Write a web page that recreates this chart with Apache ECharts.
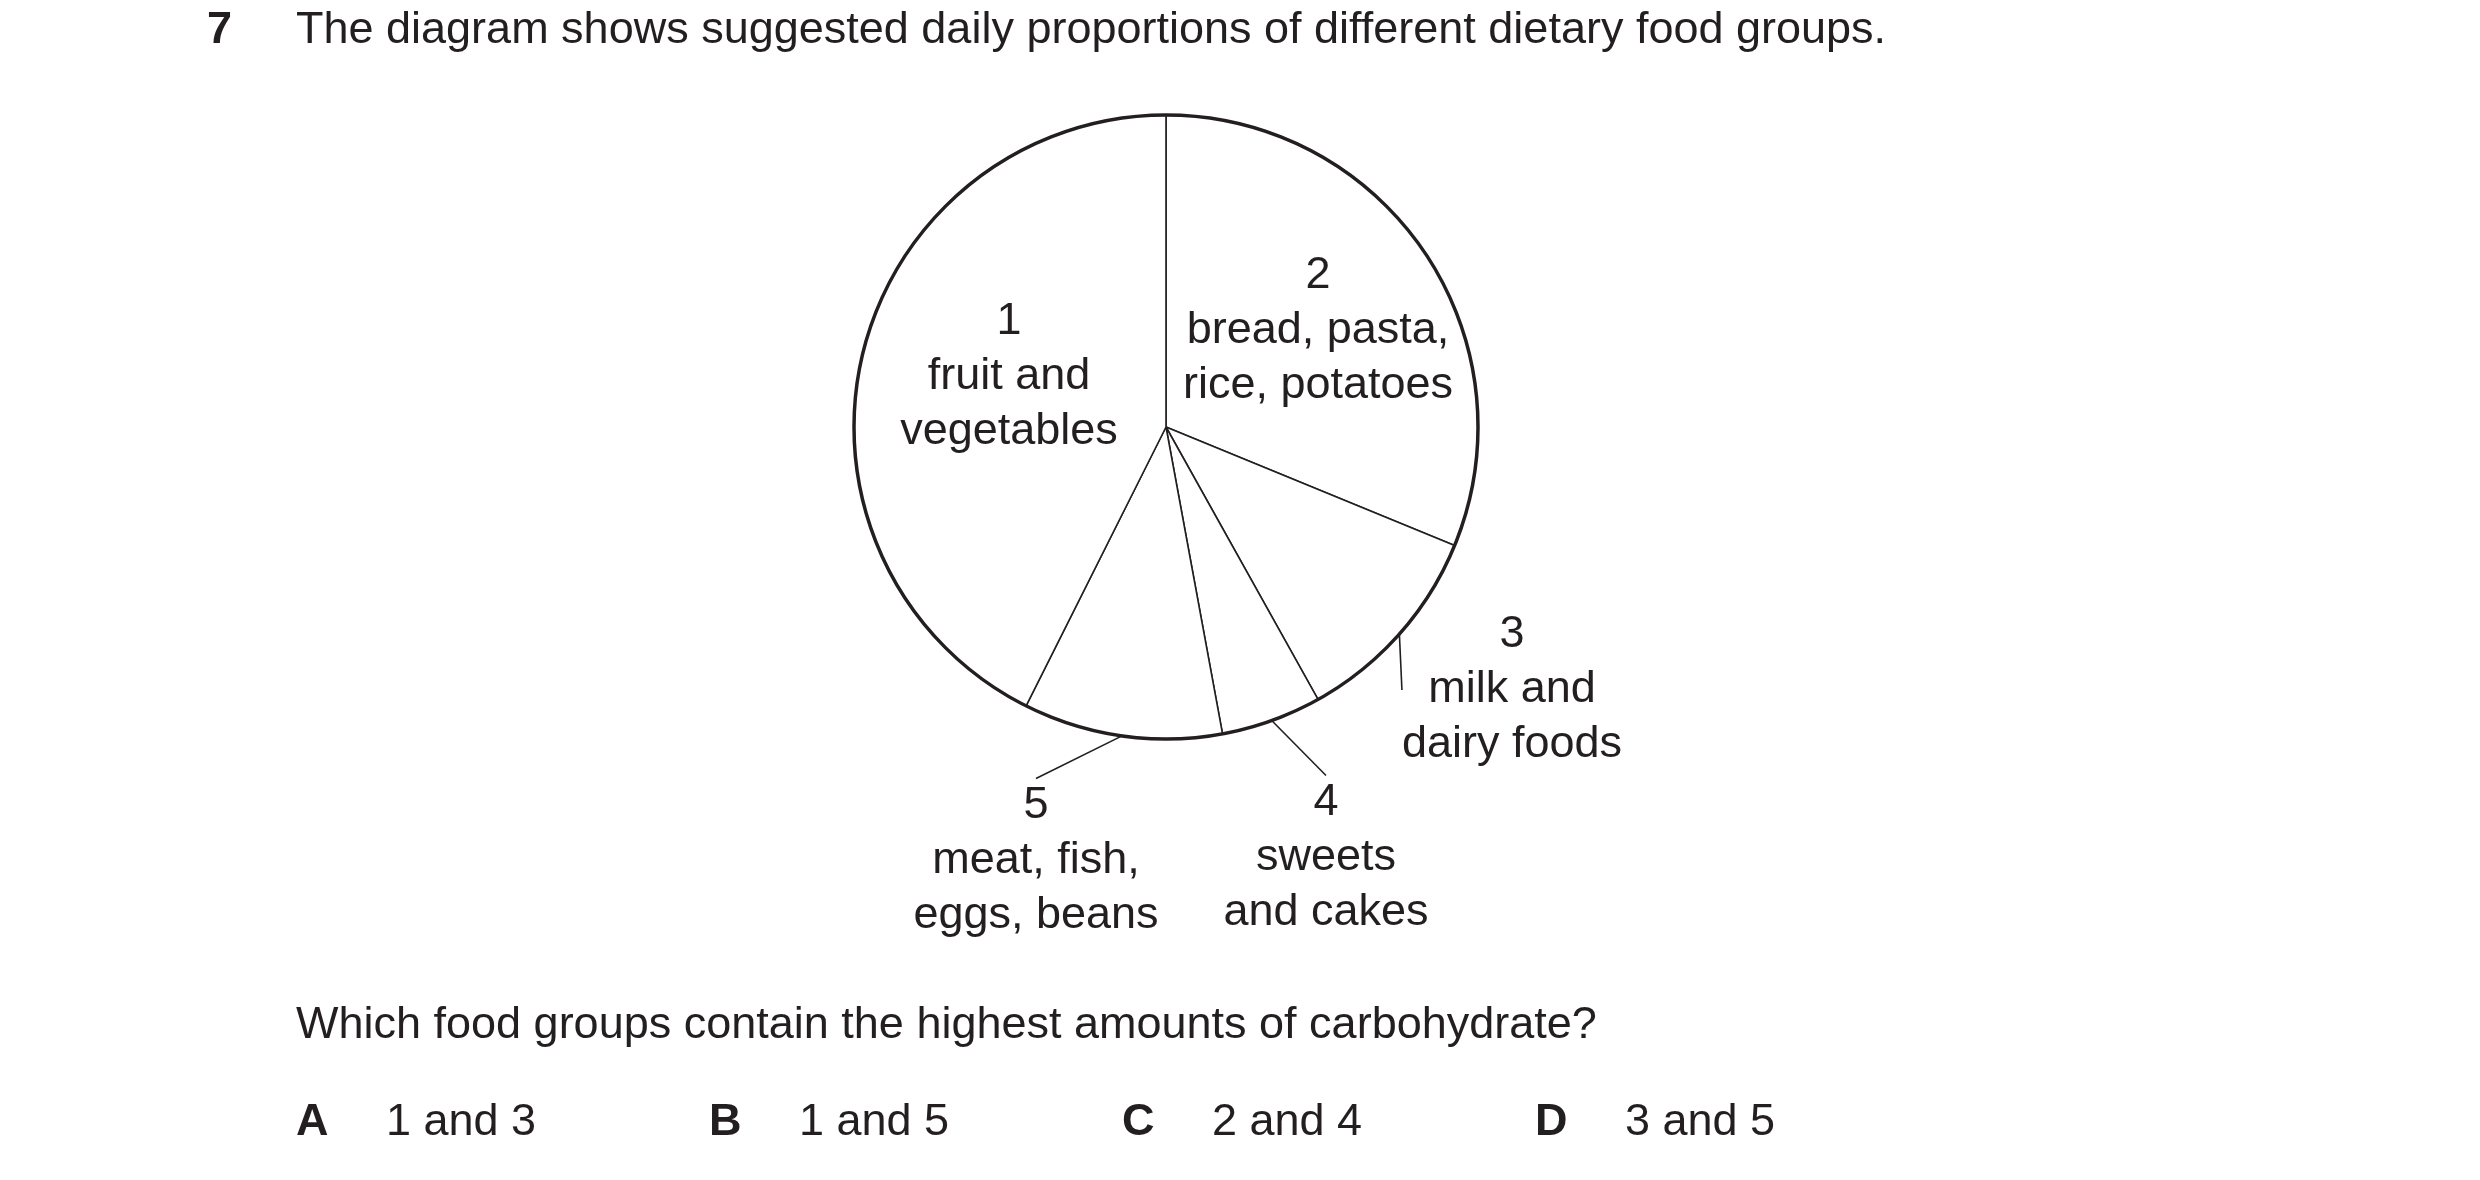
<!DOCTYPE html>
<html>
<head>
<meta charset="utf-8">
<script src="https://cdn.jsdelivr.net/npm/echarts@6/dist/echarts.min.js"></script>
<style>html,body{margin:0;padding:0;background:#fff}#chart{width:2480px;height:1180px}</style>
</head>
<body>
<div id="chart"></div>
<script>
// clockwise from the top: 2, 3, 4, 5, 1 (percent of circle)
var groups = ['2\nbread, pasta,\nrice, potatoes', '3\nmilk and\ndairy foods', '4\nsweets\nand cakes', '5\nmeat, fish,\neggs, beans', '1\nfruit and\nvegetables'];
var shares = [31.2, 10.7, 5.2, 10.3, 42.6];
var labelSpots = [[1318, 331], [1512, 690], [1326, 858], [1036, 861], [1009, 377]];
var answers = [['A', '1 and 3'], ['B', '1 and 5'], ['C', '2 and 4'], ['D', '3 and 5']];

var chart = echarts.init(document.getElementById('chart'));
var font = 'Liberation Sans, Arial, sans-serif';
var ink = '#231f20';

var texts = [
  { type: 'text', left: 207, top: 8, style: { text: '7', font: 'bold 45px ' + font, fill: ink } },
  { type: 'text', left: 296, top: 8, style: { text: 'The diagram shows suggested daily proportions of different dietary food groups.', font: '45px ' + font, fill: ink } },
  { type: 'text', left: 296, top: 1003, style: { text: 'Which food groups contain the highest amounts of carbohydrate?', font: '45px ' + font, fill: ink } }
];
answers.forEach(function (a, i) {
  texts.push({ type: 'text', left: 296 + i * 413, top: 1100, style: { text: a[0], font: 'bold 45px ' + font, fill: ink } });
  texts.push({ type: 'text', left: 386 + i * 413, top: 1100, style: { text: a[1], font: '45px ' + font, fill: ink } });
});

chart.setOption({
  animation: false,
  graphic: texts,
  series: [
    {
      type: 'pie',
      center: [1166, 427],
      radius: [0, 312],
      startAngle: 90,
      clockwise: true,
      silent: true,
      itemStyle: { color: '#fff', borderColor: ink, borderWidth: 1.6 },
      label: {
        show: true,
        formatter: '{b}',
        color: ink,
        fontFamily: font,
        fontSize: 45,
        lineHeight: 55,
        align: 'center'
      },
      labelLine: { show: true, lineStyle: { color: ink, width: 1.6 }, length: 20, length2: 0 },
      labelLayout: function (p) {
        var s = labelSpots[p.dataIndex];
        return { x: s[0], y: s[1], align: 'center', verticalAlign: 'middle' };
      },
      data: groups.map(function (g, i) {
        var item = { name: g, value: shares[i] };
        if (i === 0 || i === 4) item.labelLine = { show: false };
        return item;
      })
    },
    {
      type: 'pie',
      center: [1166, 427],
      radius: [0, 312],
      silent: true,
      z: 3,
      label: { show: false },
      labelLine: { show: false },
      itemStyle: { color: 'transparent', borderColor: ink, borderWidth: 3.5 },
      data: [{ name: 'outline', value: 1 }]
    }
  ]
});
</script>
</body>
</html>
